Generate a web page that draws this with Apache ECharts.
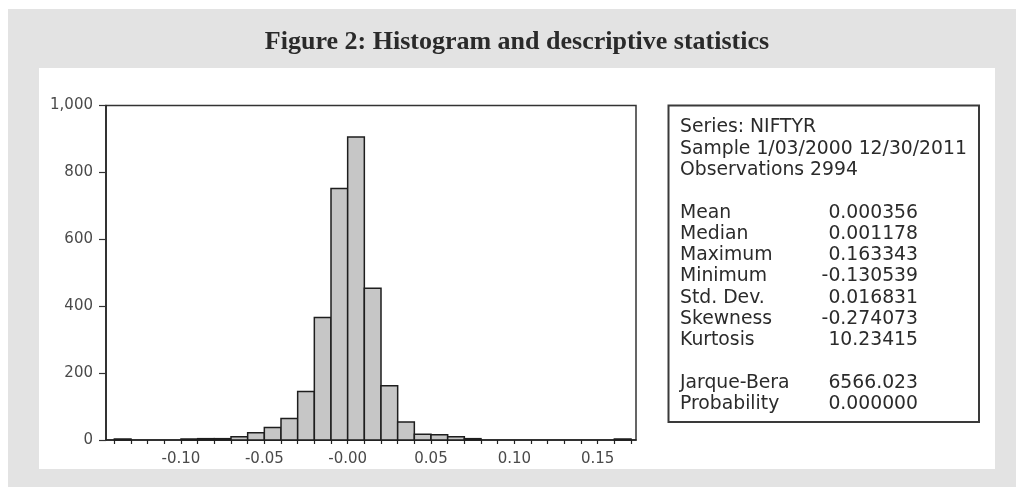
<!DOCTYPE html>
<html>
<head>
<meta charset="utf-8">
<script src="https://cdn.jsdelivr.net/npm/echarts@6/dist/echarts.min.js"></script>
<style>
  html, body { margin: 0; padding: 0; background: #ffffff; }
  #chart { width: 1016px; height: 487px; }
</style>
</head>
<body>
<div id="chart"></div>
<script>
// ---------- data ----------
const titleText = 'Figure 2: Histogram and descriptive statistics';
const binWidth = 0.01;
const binLower = [-0.14, -0.13, -0.12, -0.11, -0.10, -0.09, -0.08, -0.07, -0.06, -0.05,
                  -0.04, -0.03, -0.02, -0.01, 0.00, 0.01, 0.02, 0.03, 0.04, 0.05,
                  0.06, 0.07, 0.08, 0.09, 0.10, 0.11, 0.12, 0.13, 0.14, 0.15, 0.16];
const counts   = [3, 0, 0, 0, 3, 4, 4, 10, 22, 37,
                  64, 145, 366, 752, 906, 454, 162, 54, 17, 16,
                  10, 4, 0, 0, 0, 0, 0, 0, 0, 0, 3];
const xTickValues = [-0.14, -0.13, -0.12, -0.11, -0.10, -0.09, -0.08, -0.07, -0.06, -0.05,
                     -0.04, -0.03, -0.02, -0.01, 0.00, 0.01, 0.02, 0.03, 0.04, 0.05,
                     0.06, 0.07, 0.08, 0.09, 0.10, 0.11, 0.12, 0.13, 0.14, 0.15, 0.16, 0.17];
const xLabelValues = [-0.10, -0.05, 0.00, 0.05, 0.10, 0.15];
const xLabelTexts  = ['-0.10', '-0.05', '-0.00', '0.05', '0.10', '0.15'];
const yTickValues = [0, 200, 400, 600, 800, 1000];
const yLabelTexts = ['0', '200', '400', '600', '800', '1,000'];
const headerLines = ['Series: NIFTYR', 'Sample 1/03/2000 12/30/2011', 'Observations 2994'];
const statNames  = ['Mean', 'Median', 'Maximum', 'Minimum', 'Std. Dev.', 'Skewness', 'Kurtosis'];
const statValues = ['0.000356', '0.001178', '0.163343', '-0.130539', '0.016831', '-0.274073', '10.23415'];
const testNames  = ['Jarque-Bera', 'Probability'];
const testValues = ['6566.023', '0.000000'];

// ---------- build ----------
const histData = binLower.map((lo, i) => [lo, +(lo + binWidth).toFixed(4), counts[i]]);

function labelFor(values, texts, v) {
  for (let i = 0; i < values.length; i++) {
    if (Math.abs(values[i] - v) < 1e-9) return texts[i];
  }
  return '';
}

const statFont = { fontFamily: 'DejaVu Sans', fontSize: 18.8, fill: '#2b2b2b' };
const lineH = 21.3;
const textX = 680, valueX = 918, firstY = 127.5;
const statTexts = [];
function addLine(idx, left, right) {
  const y = firstY + idx * lineH;
  statTexts.push({ type: 'text', x: textX, y: y, z: 10,
    style: Object.assign({ text: left, align: 'left', verticalAlign: 'middle' }, statFont) });
  if (right !== undefined) {
    statTexts.push({ type: 'text', x: valueX, y: y, z: 10,
      style: Object.assign({ text: right, align: 'right', verticalAlign: 'middle' }, statFont) });
  }
}
headerLines.forEach((t, i) => addLine(i, t));
statNames.forEach((t, i) => addLine(4 + i, t, statValues[i]));
testNames.forEach((t, i) => addLine(12 + i, t, testValues[i]));

const chart = echarts.init(document.getElementById('chart'), null, { renderer: 'canvas' });
chart.setOption({
  animation: false,
  backgroundColor: '#ffffff',
  graphic: [
    { type: 'rect', z: -20, shape: { x: 8, y: 9, width: 1008, height: 478 }, style: { fill: '#e3e3e3' } },
    { type: 'rect', z: -10, shape: { x: 39, y: 68, width: 956, height: 401 }, style: { fill: '#ffffff' } },
    { type: 'text', x: 517, y: 42, z: 10,
      style: { text: titleText, fontFamily: 'Liberation Serif', fontSize: 26, fontWeight: 'bold',
               fill: '#2a2a2a', align: 'center', verticalAlign: 'middle' } },
    { type: 'rect', z: 5, shape: { x: 668.5, y: 105.5, width: 310.5, height: 316.5 },
      style: { fill: '#ffffff', stroke: '#3a3a3a', lineWidth: 2 } }
  ].concat(statTexts),
  grid: {
    left: 106, top: 105.5, width: 530, height: 334.5,
    show: true, borderColor: '#333', borderWidth: 1.5, backgroundColor: '#ffffff'
  },
  xAxis: {
    type: 'value', min: -0.145, max: 0.173,
    axisLine: { show: true, onZero: false, lineStyle: { color: '#222', width: 1.5 } },
    axisTick: { show: true, inside: false, length: 4, customValues: xTickValues,
                lineStyle: { color: '#222', width: 1.2 } },
    axisLabel: { show: true, customValues: xLabelValues, margin: 12,
                 formatter: v => labelFor(xLabelValues, xLabelTexts, v),
                 fontFamily: 'DejaVu Sans', fontSize: 15, color: '#4a4a4a' },
    splitLine: { show: false }
  },
  yAxis: {
    type: 'value', min: 0, max: 1000, interval: 200,
    axisLine: { show: true, onZero: false, lineStyle: { color: '#222', width: 1.5 } },
    axisTick: { show: true, inside: false, length: 7, lineStyle: { color: '#333', width: 1.2 } },
    axisLabel: { show: true, margin: 13,
                 formatter: v => labelFor(yTickValues, yLabelTexts, v),
                 fontFamily: 'DejaVu Sans', fontSize: 15, color: '#4a4a4a' },
    splitLine: { show: false }
  },
  series: [{
    type: 'custom',
    data: histData,
    encode: { x: [0, 1], y: 2 },
    clip: false,
    renderItem: function (params, api) {
      const x0 = api.value(0), x1 = api.value(1), c = api.value(2);
      if (!c) return null;
      const p0 = api.coord([x0, c]);
      const p1 = api.coord([x1, 0]);
      return {
        type: 'rect',
        shape: { x: p0[0], y: p0[1], width: p1[0] - p0[0], height: p1[1] - p0[1] },
        style: { fill: '#c6c6c6', stroke: '#1e1e1e', lineWidth: 1.5 }
      };
    }
  }]
});
</script>
</body>
</html>
